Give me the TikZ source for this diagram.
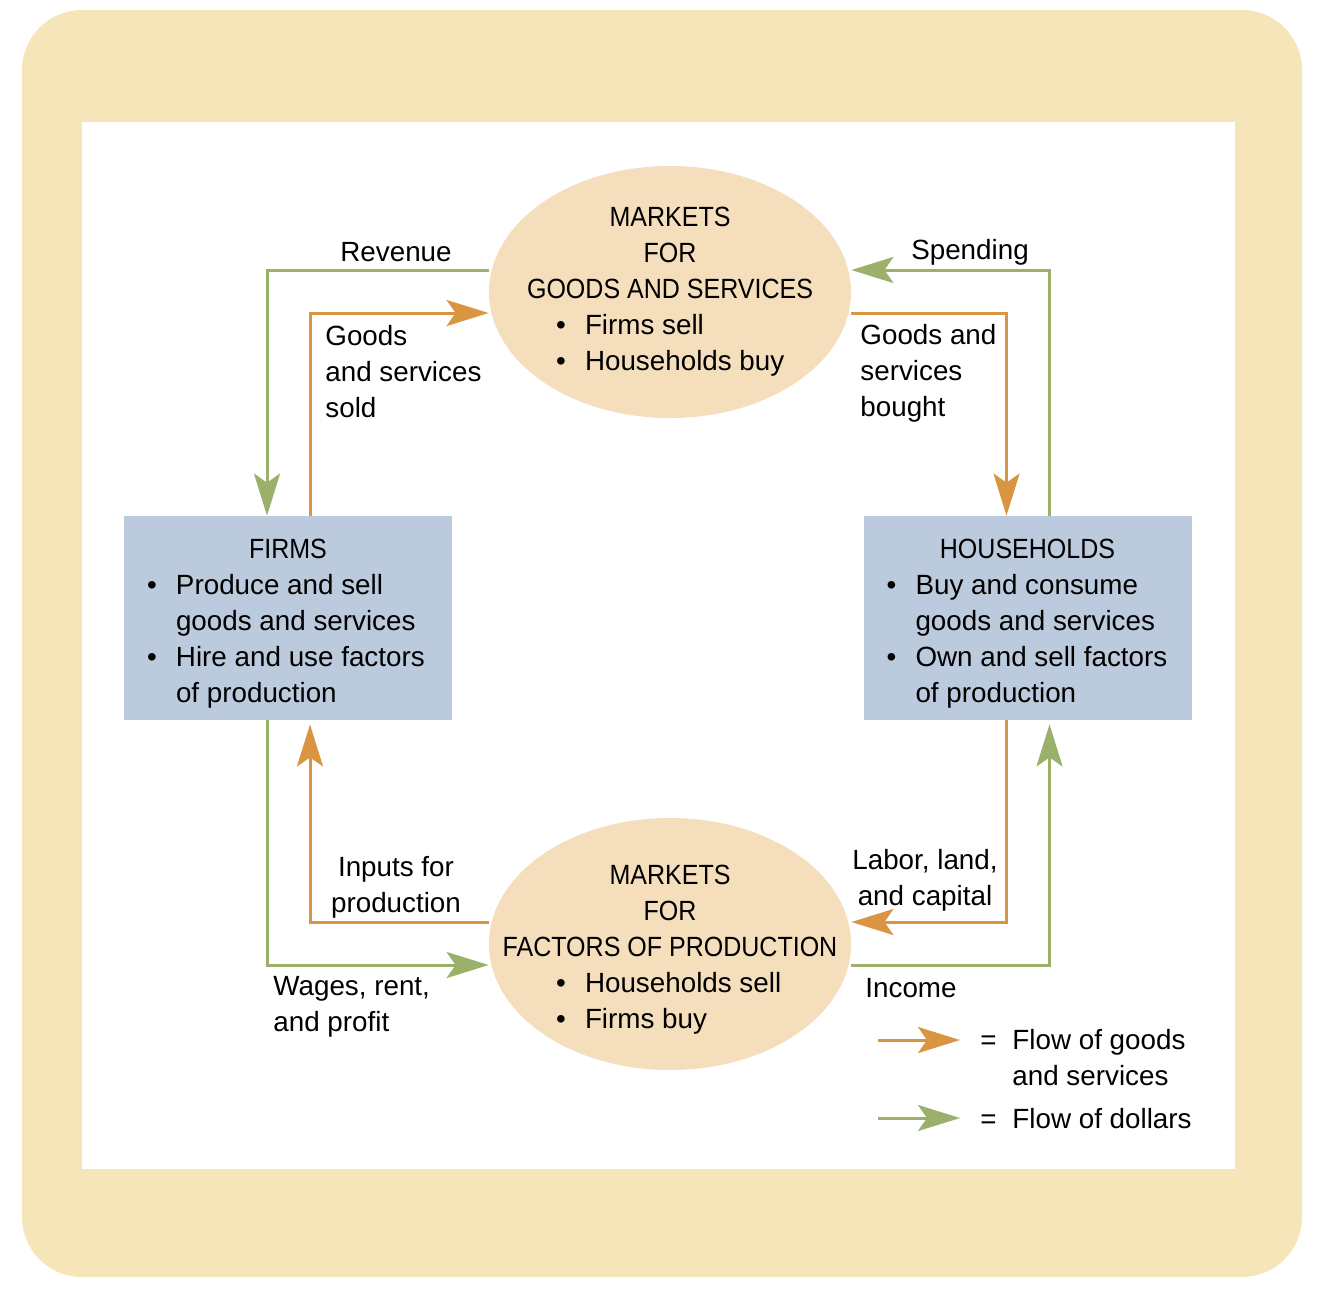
\documentclass[tikz,border=0pt]{standalone}
\usepackage{fontspec}
\usepackage{graphicx}
\setmainfont{Liberation Sans}
\usetikzlibrary{arrows.meta,shapes.geometric}

\definecolor{sand}{RGB}{246,229,185}
\definecolor{marketfill}{RGB}{244,222,188}
\definecolor{sectorfill}{RGB}{187,202,220}
\definecolor{goodsorange}{RGB}{218,149,67}
\definecolor{dollargreen}{RGB}{155,176,106}

\newcommand\bul{\makebox[14.5pt][l]{\textbullet}}
\newcommand\nobul{\hspace*{14.5pt}}
\newcommand\sline[1]{\makebox[141pt][l]{#1}}
\newcommand\mline[1]{\makebox[114pt][l]{#1}}
\newcommand\caps[1]{\scalebox{0.9}[1]{#1}}
\newcommand\topstrut{\rule{0pt}{15pt}}

\begin{document}
\begin{tikzpicture}[x=0.5pt, y=-0.5pt,
    every node/.style={font=\fontsize{13.9}{18}\selectfont, inner sep=0pt},
    sectorbox/.style={rectangle, fill=sectorfill, minimum width=164pt, minimum height=102pt, align=center},
    marketoval/.style={ellipse, fill=marketfill, minimum width=181pt, minimum height=126pt,
        inner xsep=-25pt, inner ysep=-10pt, align=center},
    flowtip/.style={-{Stealth[length=21pt, width=13pt, inset=4.5pt]}},
    goodsflow/.style={draw=goodsorange, line width=1.5pt, flowtip},
    dollarflow/.style={draw=dollargreen, line width=1.5pt, flowtip}]
    \useasboundingbox (0,0) rectangle (1320,1298);

    % Frame
    \fill[sand, rounded corners=30pt] (22,10) rectangle (1302,1277);
    \fill[white] (82,122) rectangle (1235,1169);

    % Markets
    \node[marketoval] (goodsmkt) at (670,292) {\caps{MARKETS}\\\caps{FOR}\\\caps{GOODS AND SERVICES}\\
        \mline{\bul Firms sell}\\\mline{\bul Households buy}};
    \node[marketoval] (factormkt) at (670,944) {\topstrut\caps{MARKETS}\\\caps{FOR}\\\caps{FACTORS OF PRODUCTION}\\
        \mline{\bul Households sell}\\\mline{\bul Firms buy}};

    % Sectors
    \node[sectorbox] (firms) at (288,618) {\topstrut\caps{FIRMS}\\
        \sline{\bul Produce and sell}\\\sline{\nobul goods and services}\\
        \sline{\bul Hire and use factors}\\\sline{\nobul of production}};
    \node[sectorbox] (households) at (1027.5,618) {\topstrut\caps{HOUSEHOLDS}\\
        \sline{\bul Buy and consume}\\\sline{\nobul goods and services}\\
        \sline{\bul Own and sell factors}\\\sline{\nobul of production}};

    % Top loop
    \draw[dollarflow] ([yshift=11pt]goodsmkt.west) -| ([xshift=-10.5pt]firms.north);
    \draw[goodsflow] ([xshift=11pt]firms.north) |- ([yshift=-10.5pt]goodsmkt.west);
    \draw[dollarflow] ([xshift=11pt]households.north) |- ([yshift=11pt]goodsmkt.east);
    \draw[goodsflow] ([yshift=-10.5pt]goodsmkt.east) -| ([xshift=-10.5pt]households.north);

    % Bottom loop
    \draw[dollarflow] ([xshift=-10.5pt]firms.south) |- ([yshift=-10.5pt]factormkt.west);
    \draw[goodsflow, shorten >=2pt] ([yshift=11pt]factormkt.west) -| ([xshift=11pt]firms.south);
    \draw[goodsflow] ([xshift=-10.5pt]households.south) |- ([yshift=11pt]factormkt.east);
    \draw[dollarflow, shorten >=2pt] ([yshift=-10.5pt]factormkt.east) -| ([xshift=11pt]households.south);

    % Flow labels
    \node (revenue) at (396,252) {Revenue};
    \node[anchor=west, align=left] (sold) at (325,372) {Goods\\and services\\sold};
    \node (spending) at (970,252) {Spending};
    \node[anchor=west, align=left] (bought) at (860,373) {Goods and\\services\\bought};
    \node[align=center] (inputs) at (396,887) {Inputs for\\production};
    \node[align=center] (labor) at (925,880) {Labor, land,\\and capital};
    \node[anchor=west, align=left] (wages) at (273,1007) {Wages, rent,\\and profit};
    \node[anchor=west] (income) at (865,988) {Income};

    % Legend
    \foreach \flow/\y/\key in {goodsflow/1040/goodskey, dollarflow/1118/dollarkey} {
        \coordinate (\key start) at (878,\y);
        \coordinate (\key end) at (960,\y);
        \draw[\flow] (\key start) -- (\key end);
    }
    \node[anchor=north west, align=left] (goodsnote) at (980,1029) {\makebox[16pt][l]{=}Flow of goods\\\hspace*{16pt}and services};
    \node[anchor=west] (dollarnote) at (980,1119) {\makebox[16pt][l]{=}Flow of dollars};

\end{tikzpicture}
\end{document}
